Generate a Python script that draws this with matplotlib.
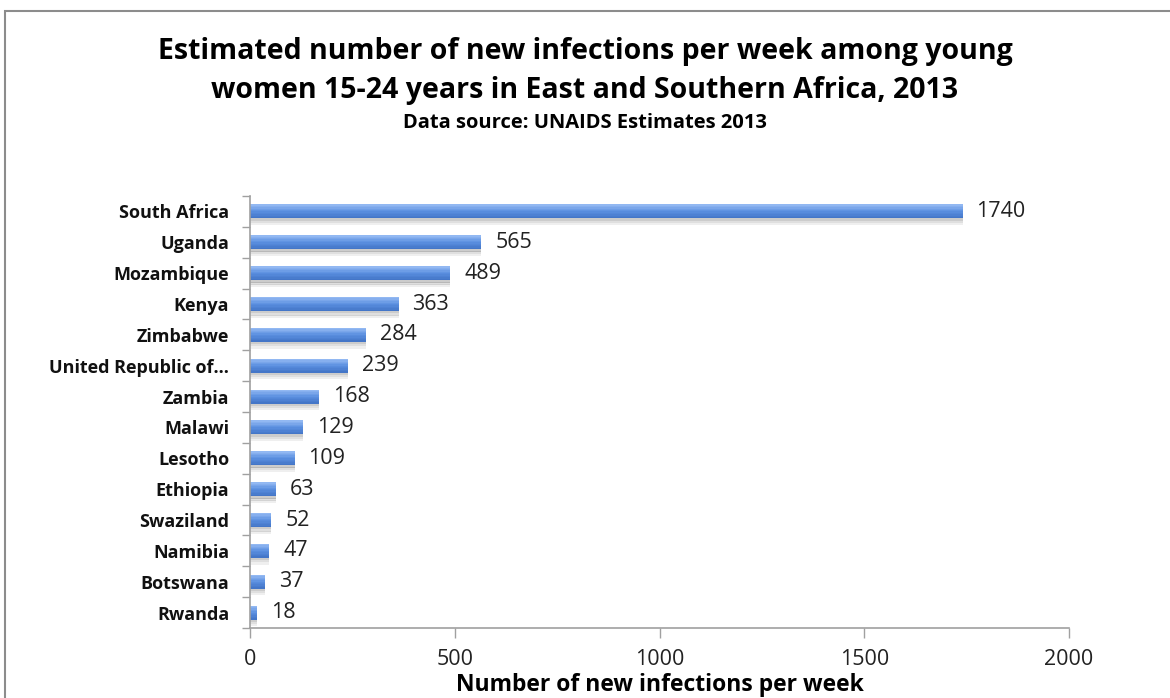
import matplotlib
matplotlib.use("Agg")
import matplotlib.pyplot as plt
from matplotlib.patches import Rectangle
import matplotlib.colors as mcolors
import numpy as np

countries = ["South Africa", "Uganda", "Mozambique", "Kenya", "Zimbabwe",
             "United Republic of...", "Zambia", "Malawi", "Lesotho", "Ethiopia",
             "Swaziland", "Namibia", "Botswana", "Rwanda"]
values = [1740, 565, 489, 363, 284, 239, 168, 129, 109, 63, 52, 47, 37, 18]
xticks = [0, 500, 1000, 1500, 2000]

title = "Estimated number of new infections per week among young\nwomen 15-24 years in East and Southern Africa, 2013"
subtitle = "Data source: UNAIDS Estimates 2013"
xlabel = "Number of new infections per week"

plt.rcParams['font.family'] = ['Open Sans', 'DejaVu Sans']

W, H = 1170, 698
fig = plt.figure(figsize=(W / 100, H / 100), dpi=100)
fig.patch.set_facecolor("white")

# border
fig.add_artist(Rectangle((5 / W, -0.1), 1.2, (H - 11) / H + 0.1, transform=fig.transFigure,
                         fill=False, edgecolor="#8c8c8c", linewidth=1.5))

ax = fig.add_axes([250 / W, 1 - 628 / H, (1069 - 250) / W, (628 - 196) / H])
y = np.arange(len(countries))
bh = 0.45

# shadow (soft gray below the bar)
for k, a in enumerate([0.4, 0.25, 0.12]):
    ax.barh(y + bh / 2 + 0.04 + k * 0.07, values, height=0.08, left=0,
            color="#808080", alpha=a, zorder=1, linewidth=0)

# gradient bar: light top -> darker bottom
top = np.array(mcolors.to_rgb("#92b8f2"))
mid = np.array(mcolors.to_rgb("#5b8fe0"))
bot = np.array(mcolors.to_rgb("#4476c8"))
n = 10
for i in range(n):
    t = i / (n - 1)
    if t < 0.5:
        c = top + (mid - top) * (t / 0.5)
    else:
        c = mid + (bot - mid) * ((t - 0.5) / 0.5)
    yc = y - bh / 2 + (i + 0.5) * bh / n
    ax.barh(yc, values, height=bh / n * 1.05, color=c, zorder=2, linewidth=0)

ax.set_ylim(len(countries) - 0.5, -0.5)
ax.set_xlim(0, 2000)
ax.set_xticks(xticks)
ax.set_xticklabels([str(t) for t in xticks], fontsize=15.5, color="#222222")
ax.set_yticks(y)
ax.set_yticklabels(countries, fontsize=13, fontweight="bold", color="#111111")
ax.set_yticks(np.arange(len(countries) + 1) - 0.5, minor=True)
ax.tick_params(axis="y", which="major", length=0, pad=15)
ax.tick_params(axis="y", which="minor", length=6, color="#a0a0a0", width=1)
ax.tick_params(axis="x", length=7, color="#a0a0a0", width=1, pad=8)

for s in ["top", "right"]:
    ax.spines[s].set_visible(False)
for s in ["left", "bottom"]:
    ax.spines[s].set_color("#a0a0a0")
    ax.spines[s].set_linewidth(1.2)

for yi, v in zip(y, values):
    ax.annotate(str(v), (v, yi), xytext=(10, 0), textcoords="offset points",
                va="center", ha="left", fontsize=15.5, color="#222222")

ax.set_xlabel(xlabel, fontsize=16.5, fontweight="bold", labelpad=2)

fig.text(0.5, 1 - 71 / H, title, ha="center", va="center", fontsize=20.5,
         fontweight="bold", linespacing=1.48)
fig.text(0.5, 1 - 123 / H, subtitle, ha="center", va="center", fontsize=14.5,
         fontweight="bold")

fig.savefig("out.png", dpi=100, facecolor="white")
